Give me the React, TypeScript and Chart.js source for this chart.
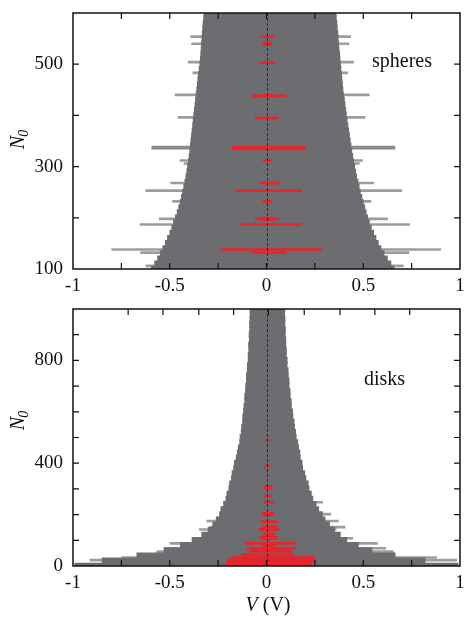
import React, { useEffect, useRef } from 'react';
import { Chart, registerables } from 'chart.js';

Chart.register(...registerables);

// ---------------- spheres (top panel) ----------------
const SPHERE_N = [100, 110, 120, 130, 140, 150, 160, 170, 180, 190, 200, 210, 220, 230, 240, 250, 260, 270, 280, 290, 300, 310, 320, 330, 340, 350, 360, 370, 380, 390, 400, 410, 420, 430, 440, 450, 460, 470, 480, 490, 500, 510, 520, 530, 540, 550, 560, 570, 580, 590, 600];
const SPHERE_LEFT = [-0.595, -0.578, -0.563, -0.549, -0.536, -0.523, -0.512, -0.5, -0.49, -0.481, -0.471, -0.462, -0.454, -0.446, -0.44, -0.434, -0.428, -0.422, -0.417, -0.412, -0.408, -0.404, -0.4, -0.397, -0.394, -0.391, -0.388, -0.385, -0.382, -0.379, -0.376, -0.373, -0.37, -0.367, -0.364, -0.361, -0.358, -0.355, -0.352, -0.348, -0.345, -0.342, -0.34, -0.338, -0.336, -0.334, -0.332, -0.33, -0.328, -0.325, -0.323];
const SPHERE_RIGHT = [0.66, 0.643, 0.625, 0.608, 0.592, 0.578, 0.566, 0.554, 0.542, 0.532, 0.523, 0.515, 0.508, 0.5, 0.493, 0.485, 0.479, 0.473, 0.466, 0.461, 0.456, 0.451, 0.446, 0.441, 0.437, 0.433, 0.429, 0.425, 0.421, 0.417, 0.413, 0.41, 0.406, 0.403, 0.398, 0.395, 0.393, 0.39, 0.388, 0.385, 0.383, 0.38, 0.378, 0.375, 0.373, 0.371, 0.369, 0.366, 0.364, 0.361, 0.359];

const SPHERE_WHISK_N = [554, 540, 504, 483, 440, 396, 312, 306, 268, 253, 232, 198, 187, 138, 132, 106];
const SPHERE_WHISK_LEFT = [-0.392, -0.387, -0.404, -0.381, -0.473, -0.456, -0.447, -0.426, -0.495, -0.624, -0.485, -0.554, -0.654, -0.8, -0.65, -0.623];
const SPHERE_WHISK_RIGHT = [0.435, 0.426, 0.45, 0.42, 0.531, 0.509, 0.496, 0.48, 0.554, 0.699, 0.54, 0.626, 0.74, 0.9, 0.736, 0.707];
const SPHERE_WHISK_THICK_N = [337];
const SPHERE_WHISK_THICK_LEFT = [-0.593];
const SPHERE_WHISK_THICK_RIGHT = [0.664];

const SPHERE_RED_N = [554, 503, 438, 395, 311, 268, 253, 232, 198, 187, 138, 132];
const SPHERE_RED_LEFT = [-0.036, -0.036, -0.075, -0.058, -0.017, -0.037, -0.158, -0.017, -0.058, -0.137, -0.235, -0.077];
const SPHERE_RED_RIGHT = [0.042, 0.042, 0.101, 0.061, 0.023, 0.063, 0.183, 0.023, 0.063, 0.183, 0.282, 0.101];
const SPHERE_RED_THICK_N = [540, 438, 336, 198];
const SPHERE_RED_THICK_LEFT = [-0.018, -0.02, -0.178, -0.03];
const SPHERE_RED_THICK_RIGHT = [0.025, 0.03, 0.2, 0.035];

const SPHERE_Y_LABELS = [100, 300, 500];
const SPHERE_Y_MARKS = [200, 300, 400, 500];
const SPHERE_X_TOP_MARKS = [-0.75, -0.5, -0.25, 0, 0.25, 0.5, 0.75];

// ---------------- disks (bottom panel) ----------------
const DISK_N = [0, 20, 40, 60, 80, 100, 120, 140, 160, 180, 200, 220, 240, 260, 280, 300, 320, 340, 360, 380, 400, 420, 440, 460, 480, 500, 520, 540, 560, 580, 600, 620, 640, 660, 680, 700, 720, 740, 760, 780, 800, 820, 840, 860, 880, 900, 920, 940, 960, 980, 1000];
const DISK_LEFT = [-0.99, -0.85, -0.67, -0.53, -0.445, -0.385, -0.335, -0.302, -0.278, -0.26, -0.243, -0.236, -0.222, -0.21, -0.205, -0.195, -0.191, -0.182, -0.178, -0.17, -0.166, -0.157, -0.151, -0.146, -0.139, -0.137, -0.131, -0.129, -0.124, -0.123, -0.119, -0.117, -0.113, -0.113, -0.109, -0.108, -0.104, -0.104, -0.1, -0.099, -0.095, -0.095, -0.092, -0.093, -0.089, -0.09, -0.087, -0.088, -0.086, -0.085, -0.085];
const DISK_RIGHT = [0.99, 0.82, 0.665, 0.545, 0.475, 0.415, 0.382, 0.352, 0.326, 0.303, 0.289, 0.27, 0.257, 0.24, 0.232, 0.22, 0.216, 0.204, 0.198, 0.187, 0.184, 0.175, 0.173, 0.166, 0.162, 0.154, 0.151, 0.145, 0.143, 0.137, 0.135, 0.129, 0.128, 0.123, 0.122, 0.117, 0.117, 0.113, 0.112, 0.107, 0.107, 0.103, 0.103, 0.1, 0.1, 0.097, 0.098, 0.095, 0.096, 0.094, 0.095];

const DISK_WHISK_N = [248, 202, 175, 151, 142, 108, 88, 69, 56, 33, 23, 6];
const DISK_WHISK_LEFT = [-0.22, -0.24, -0.309, -0.29, -0.347, -0.378, -0.499, -0.528, -0.567, -0.748, -0.912, -0.99];
const DISK_WHISK_RIGHT = [0.29, 0.332, 0.371, 0.406, 0.36, 0.445, 0.573, 0.616, 0.655, 0.879, 0.983, 0.99];

const DISK_RED_N = [490, 390, 272, 248, 172, 152, 142, 125, 88, 68, 58, 44, 5];
const DISK_RED_LEFT = [-0.003, -0.005, -0.01, -0.015, -0.03, -0.02, -0.04, -0.015, -0.105, -0.105, -0.085, -0.128, -0.15];
const DISK_RED_RIGHT = [0.008, 0.012, 0.025, 0.035, 0.06, 0.055, 0.065, 0.04, 0.15, 0.15, 0.13, 0.139, 0.2];
const DISK_RED_THICK_N = [306, 202, 110, 76, 30, 21, 12];
const DISK_RED_THICK_LEFT = [-0.01, -0.02, -0.035, -0.02, -0.18, -0.2, -0.206];
const DISK_RED_THICK_RIGHT = [0.03, 0.035, 0.055, 0.045, 0.25, 0.25, 0.233];

const DISK_Y_LABELS = [0, 400, 800];
const DISK_Y_MARKS = [100, 200, 300, 400, 500, 600, 700, 800, 900];
const DISK_X_TOP_MARKS = [-0.715, -0.535, -0.35, -0.17, 0.01, 0.195, 0.38, 0.56, 0.74];

const X_LABELS = [-1, -0.5, 0, 0.5, 1];
const X_BOTTOM_MARKS = [-0.75, -0.5, -0.25, 0, 0.25, 0.5, 0.75];

const BODY = '#6c6d71';
const WHISK = '#9c9c9c';
const RED = '#e8232a';
const FONT = '"Liberation Serif", "Times New Roman", serif';

const rows = (n: number[], l: number[], r: number[]) => n.map((v, i) => ({ y: v, x: [l[i], r[i]] }));

type Series = { n: number[]; l: number[]; r: number[] };
type PanelProps = {
  width: number;
  height: number;
  padTop: number;
  xAxisH: number;
  yMin: number;
  yMax: number;
  yLabels: number[];
  yMarks: number[];
  xTopMarks: number[];
  body: Series;
  whisk: Series;
  whiskThick?: Series;
  red: Series;
  redThick: Series;
  label: string;
  labelX: number;
  labelY: number;
  titleY: number;
  vTitle?: boolean;
};

function Panel(p: PanelProps) {
  const ref = useRef<HTMLCanvasElement | null>(null);
  useEffect(() => {
    if (!ref.current) return;
    const deco = {
      id: 'deco',
      afterDatasetsDraw(chart: any) {
        const { ctx, chartArea: a, scales } = chart;
        const xs = scales.x;
        const ys = scales.y;
        ctx.save();
        // dashed zero line
        ctx.strokeStyle = '#2a2a2a';
        ctx.lineWidth = 1;
        ctx.setLineDash([3, 2]);
        const x0 = Math.round(xs.getPixelForValue(0)) + 0.5;
        ctx.beginPath();
        ctx.moveTo(x0, a.top);
        ctx.lineTo(x0, a.bottom);
        ctx.stroke();
        ctx.setLineDash([]);
        // frame
        ctx.strokeStyle = '#111';
        ctx.lineWidth = 1.5;
        ctx.strokeRect(a.left, a.top, a.right - a.left, a.bottom - a.top);
        // inward ticks
        ctx.lineWidth = 1.2;
        ctx.beginPath();
        for (const v of X_BOTTOM_MARKS) {
          const x = xs.getPixelForValue(v);
          ctx.moveTo(x, a.bottom);
          ctx.lineTo(x, a.bottom - 6);
        }
        for (const v of p.xTopMarks) {
          const x = xs.getPixelForValue(v);
          ctx.moveTo(x, a.top);
          ctx.lineTo(x, a.top + 6);
        }
        for (const v of p.yMarks) {
          const y = ys.getPixelForValue(v);
          ctx.moveTo(a.left, y);
          ctx.lineTo(a.left + 6, y);
          ctx.moveTo(a.right, y);
          ctx.lineTo(a.right - 6, y);
        }
        ctx.stroke();
        // panel label
        ctx.fillStyle = '#111';
        ctx.font = `20px ${FONT}`;
        ctx.textAlign = 'left';
        ctx.textBaseline = 'alphabetic';
        ctx.fillText(p.label, p.labelX, p.labelY);
        // y title N0 (rotated)
        ctx.save();
        ctx.translate(24, p.titleY);
        ctx.rotate(-Math.PI / 2);
        ctx.font = `italic 20px ${FONT}`;
        const wN = ctx.measureText('N').width;
        ctx.font = `italic 14px ${FONT}`;
        const w0 = ctx.measureText('0').width;
        const start = -(wN + w0) / 2;
        ctx.font = `italic 20px ${FONT}`;
        ctx.fillText('N', start, 0);
        ctx.font = `italic 14px ${FONT}`;
        ctx.fillText('0', start + wN - 1, 4);
        ctx.restore();
        // x title
        if (p.vTitle) {
          ctx.font = `italic 20px ${FONT}`;
          const wV = ctx.measureText('V').width;
          ctx.font = `20px ${FONT}`;
          const wRest = ctx.measureText(' (V)').width;
          const sx = 268 - (wV + wRest) / 2;
          const by = 311;
          ctx.font = `italic 20px ${FONT}`;
          ctx.fillText('V', sx, by);
          ctx.font = `20px ${FONT}`;
          ctx.fillText(' (V)', sx + wV, by);
        }
        ctx.restore();
      },
    };

    const chart = new Chart(ref.current, {
      type: 'bar',
      data: {
        datasets: [
          { data: rows(p.redThick.n, p.redThick.l, p.redThick.r) as any, backgroundColor: RED, barThickness: 3.5, grouped: false, order: 0 },
          { data: rows(p.red.n, p.red.l, p.red.r) as any, backgroundColor: RED, barThickness: 2, grouped: false, order: 1 },
          { data: rows(p.body.n, p.body.l, p.body.r) as any, backgroundColor: BODY, barThickness: 6, grouped: false, order: 2 },
          ...(p.whiskThick
            ? [{ data: rows(p.whiskThick.n, p.whiskThick.l, p.whiskThick.r) as any, backgroundColor: '#8a8a8a', barThickness: 3, grouped: false, order: 3 }]
            : []),
          { data: rows(p.whisk.n, p.whisk.l, p.whisk.r) as any, backgroundColor: WHISK, barThickness: 2, grouped: false, order: 4 },
        ],
      },
      options: {
        indexAxis: 'y',
        animation: false,
        responsive: false,
        maintainAspectRatio: false,
        layout: { padding: { top: p.padTop, right: 5, left: 0, bottom: 0 } },
        plugins: { legend: { display: false }, tooltip: { enabled: false } },
        scales: {
          x: {
            type: 'linear',
            min: -1,
            max: 1,
            stacked: false,
            offset: false,
            afterBuildTicks: (s: any) => {
              s.ticks = X_LABELS.map((v) => ({ value: v }));
            },
            afterFit: (s: any) => {
              s.height = p.xAxisH;
              s.paddingLeft = 0;
              s.paddingRight = 0;
            },
            ticks: {
              autoSkip: false,
              maxRotation: 0,
              padding: 6,
              color: '#111',
              font: { family: FONT, size: 19 },
              callback: (v: any) => String(v),
            },
            grid: { display: false, drawTicks: false },
            border: { display: false },
          },
          y: {
            type: 'linear',
            min: p.yMin,
            max: p.yMax,
            offset: false,
            afterBuildTicks: (s: any) => {
              s.ticks = p.yLabels.map((v) => ({ value: v }));
            },
            afterFit: (s: any) => {
              s.width = 73;
              s.paddingTop = 0;
              s.paddingBottom = 0;
            },
            ticks: {
              autoSkip: false,
              padding: 10,
              color: '#111',
              font: { family: FONT, size: 19 },
              callback: (v: any) => String(v),
            },
            grid: { display: false, drawTicks: false },
            border: { display: false },
          },
        },
      } as any,
      plugins: [deco],
    });
    return () => chart.destroy();
  }, []);
  return <canvas ref={ref} width={p.width} height={p.height} style={{ display: 'block' }} />;
}

export default function App() {
  return (
    <div style={{ position: 'absolute', left: 0, top: 0, width: 465, height: 618, background: '#fff' }}>
      <Panel
        width={465}
        height={300}
        padTop={13}
        xAxisH={31}
        yMin={100}
        yMax={600}
        yLabels={SPHERE_Y_LABELS}
        yMarks={SPHERE_Y_MARKS}
        xTopMarks={SPHERE_X_TOP_MARKS}
        body={{ n: SPHERE_N, l: SPHERE_LEFT, r: SPHERE_RIGHT }}
        whisk={{ n: SPHERE_WHISK_N, l: SPHERE_WHISK_LEFT, r: SPHERE_WHISK_RIGHT }}
        whiskThick={{ n: SPHERE_WHISK_THICK_N, l: SPHERE_WHISK_THICK_LEFT, r: SPHERE_WHISK_THICK_RIGHT }}
        red={{ n: SPHERE_RED_N, l: SPHERE_RED_LEFT, r: SPHERE_RED_RIGHT }}
        redThick={{ n: SPHERE_RED_THICK_N, l: SPHERE_RED_THICK_LEFT, r: SPHERE_RED_THICK_RIGHT }}
        label="spheres"
        labelX={372}
        labelY={67}
        titleY={139}
      />
      <Panel
        width={465}
        height={318}
        padTop={9}
        xAxisH={52}
        yMin={0}
        yMax={1000}
        yLabels={DISK_Y_LABELS}
        yMarks={DISK_Y_MARKS}
        xTopMarks={DISK_X_TOP_MARKS}
        body={{ n: DISK_N, l: DISK_LEFT, r: DISK_RIGHT }}
        whisk={{ n: DISK_WHISK_N, l: DISK_WHISK_LEFT, r: DISK_WHISK_RIGHT }}
        red={{ n: DISK_RED_N, l: DISK_RED_LEFT, r: DISK_RED_RIGHT }}
        redThick={{ n: DISK_RED_THICK_N, l: DISK_RED_THICK_LEFT, r: DISK_RED_THICK_RIGHT }}
        label="disks"
        labelX={364}
        labelY={85}
        titleY={120}
        vTitle
      />
    </div>
  );
}
